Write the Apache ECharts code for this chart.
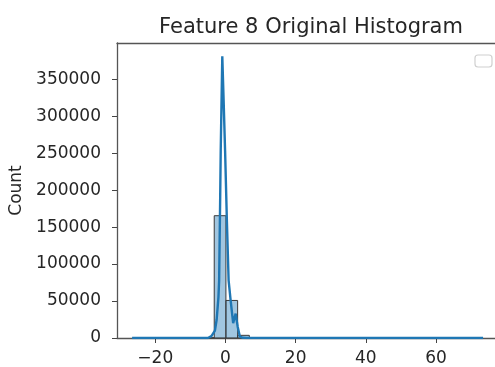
<!DOCTYPE html>
<html>
<head>
<meta charset="utf-8">
<script src="https://cdn.jsdelivr.net/npm/echarts@6/dist/echarts.min.js"></script>
<style>
  html, body { margin: 0; padding: 0; background: #fff; }
  #chart { width: 495px; height: 367px; }
</style>
</head>
<body>
<div id="chart"></div>
<script>
// histogram bins (only bins with visible counts)
const binStart = [-6.53, -3.2, 0.13, 3.47];
const binEnd = [-3.2, 0.13, 3.47, 6.8];
const binCounts = [400, 165400, 50800, 3600];

// kde curve
const kdeX = [-26.6, -6, -5, -4.5, -4, -3.5, -3, -2.5, -2, -1.8, -1.5, -1.35, -0.9, -0.5, -0.1, 0.4, 0.9, 1.5, 2.2, 2.9, 3.5, 4.1, 5, 6, 73.4];
const kdeY = [0, 0, 0, 1000, 2500, 5000, 10000, 25000, 55000, 78000, 190000, 253000, 381000, 318000, 253000, 160000, 78000, 50000, 20000, 33000, 15000, 2000, 300, 0, 0];

const xTicks = [-20, 0, 20, 40, 60];
const yTicks = [0, 50000, 100000, 150000, 200000, 250000, 300000, 350000];

const FONT = "DejaVu Sans";
const SPINE = { color: "#555", width: 1.3 };
const chart = echarts.init(document.getElementById("chart"), null, { renderer: "canvas" });

const bars = binCounts.map((c, i) => [binStart[i], binEnd[i], c]);
const kde = kdeX.map((x, i) => [x, kdeY[i]]);

chart.setOption({
  animation: false,
  title: {
    text: "Feature 8 Original Histogram",
    left: 306,
    top: 12,
    textAlign: "center",
    textStyle: { fontFamily: FONT, fontSize: 21, fontWeight: "normal", color: "#262626" }
  },
  // right spine falls outside the picture, so no grid box
  grid: { left: 115, top: 43, right: 0, bottom: 29 },
  xAxis: [
    {
      type: "value",
      min: -30.9,
      max: 76.8,
      splitLine: { show: false },
      axisLine: { show: true, onZero: false, lineStyle: SPINE },
      axisTick: { show: true, length: 5, customValues: xTicks, lineStyle: { color: "#444" } },
      axisLabel: {
        customValues: xTicks,
        margin: 12,
        fontFamily: FONT,
        fontSize: 17,
        color: "#262626",
        formatter: v => String(v).replace("-", "\u2212")
      }
    },
    {
      // top spine only
      type: "value",
      position: "top",
      min: -30.9,
      max: 76.8,
      splitLine: { show: false },
      axisLine: { show: true, onZero: false, lineStyle: SPINE },
      axisTick: { show: false },
      axisLabel: { show: false }
    }
  ],
  yAxis: {
    type: "value",
    min: 0,
    max: 399000,
    name: "Count",
    nameLocation: "middle",
    nameGap: 92,
    nameTextStyle: { fontFamily: FONT, fontSize: 17, color: "#262626" },
    splitLine: { show: false },
    axisLine: { show: true, onZero: false, lineStyle: SPINE },
    axisTick: { show: true, length: 5, customValues: yTicks, lineStyle: { color: "#444" } },
    axisLabel: {
      customValues: yTicks,
      margin: 16,
      fontFamily: FONT,
      fontSize: 17,
      color: "#262626",
      formatter: v => String(v)
    }
  },
  graphic: [
    {
      type: "rect",
      shape: { x: 475, y: 55, width: 17, height: 12, r: 3 },
      style: { fill: "#fff", stroke: "#d0d0d0", lineWidth: 1.2 }
    }
  ],
  series: [
    {
      type: "custom",
      data: bars,
      renderItem: (params, api) => {
        const p0 = api.coord([api.value(0), api.value(2)]);
        const p1 = api.coord([api.value(1), 0]);
        return {
          type: "rect",
          shape: { x: p0[0], y: p0[1], width: p1[0] - p0[0], height: p1[1] - p0[1] },
          style: { fill: "rgba(31,119,180,0.42)", stroke: "#3a3a3a", lineWidth: 1 }
        };
      },
      z: 2
    },
    {
      type: "line",
      data: kde,
      showSymbol: false,
      lineStyle: { color: "#1f77b4", width: 2.4 },
      z: 3
    }
  ]
});
</script>
</body>
</html>
